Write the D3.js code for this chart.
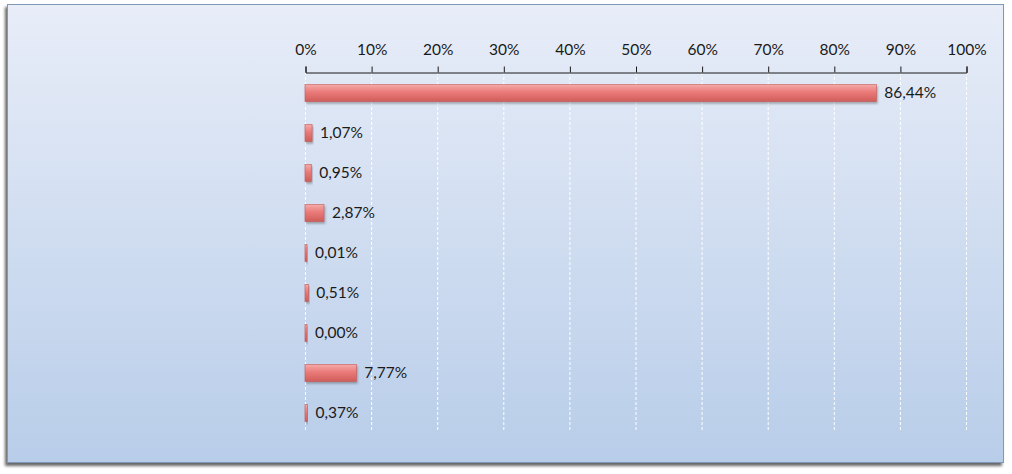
<!DOCTYPE html>
<html>
<head>
<meta charset="utf-8">
<script src="https://cdn.jsdelivr.net/npm/d3@7"></script>
<style>
  body { margin: 0; background: #fff; }
  text { font-family: Lato, "Open Sans", sans-serif; }
</style>
</head>
<body>
<div id="chart"></div>
<script>
// data
var categories = ["c1", "c2", "c3", "c4", "c5", "c6", "c7", "c8", "c9"];
var values = [86.44, 1.07, 0.95, 2.87, 0.01, 0.51, 0.00, 7.77, 0.37];
var tickValues = [0, 10, 20, 30, 40, 50, 60, 70, 80, 90, 100];

var width = 1012, height = 474;

var svg = d3.select("#chart")
    .append("svg")
    .attr("width", width)
    .attr("height", height);

var defs = svg.append("defs");

// background gradient
var bg = defs.append("linearGradient").attr("id", "bg")
    .attr("x1", 0).attr("y1", 0).attr("x2", 0).attr("y2", 1);
bg.append("stop").attr("offset", "0%").attr("stop-color", "#e8edf8");
bg.append("stop").attr("offset", "100%").attr("stop-color", "#b8cde9");

// bar gradient
var bg2 = defs.append("linearGradient").attr("id", "bar")
    .attr("x1", 0).attr("y1", 0).attr("x2", 0).attr("y2", 1);
bg2.append("stop").attr("offset", "0%").attr("stop-color", "#f5abaa");
bg2.append("stop").attr("offset", "45%").attr("stop-color", "#ea7a78");
bg2.append("stop").attr("offset", "100%").attr("stop-color", "#cf5d5b");

var fs = defs.append("filter").attr("id", "frameShadow")
    .attr("x", "-5%").attr("y", "-5%").attr("width", "110%").attr("height", "110%");
fs.append("feDropShadow").attr("dx", -2).attr("dy", 3).attr("stdDeviation", 1.5)
    .attr("flood-color", "#000").attr("flood-opacity", 0.6);

var bs = defs.append("filter").attr("id", "barShadow")
    .attr("x", "-20%").attr("y", "-30%").attr("width", "140%").attr("height", "180%");
bs.append("feDropShadow").attr("dx", 1).attr("dy", 2).attr("stdDeviation", 1.2)
    .attr("flood-color", "#555").attr("flood-opacity", 0.45);

// chart frame
svg.append("rect")
    .attr("x", 7.5).attr("y", 4.5)
    .attr("width", 996).attr("height", 458)
    .attr("fill", "url(#bg)")
    .attr("stroke", "#7f98b8")
    .attr("stroke-width", 1)
    .attr("filter", "url(#frameShadow)");

// scales
var x = d3.scaleLinear().domain([0, 100]).range([305, 966]);
var y = d3.scaleBand().domain(categories).range([73, 433])
    .paddingInner(0.575).paddingOuter(0.2875);

var axisY = 72;

// gridlines
svg.append("g")
    .selectAll("line")
    .data(tickValues)
    .enter()
    .append("line")
    .attr("x1", function (d) { return x(d) + 0.5; })
    .attr("x2", function (d) { return x(d) + 0.5; })
    .attr("y1", axisY)
    .attr("y2", 432)
    .attr("stroke", "#ffffff")
    .attr("stroke-width", 1)
    .attr("stroke-dasharray", "3,2");

// top axis
var axis = svg.append("g")
    .attr("transform", "translate(0.5," + (axisY + 0.5) + ")")
    .call(d3.axisTop(x).tickValues(tickValues)
        .tickSize(6).tickPadding(12)
        .tickFormat(function (d) { return d + "%"; }));
axis.select(".domain").attr("stroke", "#1a1a1a");
axis.selectAll(".tick line").attr("stroke", "#1a1a1a");
axis.selectAll("text")
    .attr("fill", "#1a1a1a")
    .style("font-size", "15.5px")
    .style("font-family", "Lato, 'Open Sans', sans-serif");

// bars
svg.append("g")
    .selectAll("rect")
    .data(values)
    .enter()
    .append("rect")
    .attr("x", x(0))
    .attr("y", function (d, i) { return y(categories[i]); })
    .attr("width", function (d) { return Math.max(x(d) - x(0), 2); })
    .attr("height", y.bandwidth())
    .attr("fill", "url(#bar)")
    .attr("stroke", "#c65a58")
    .attr("stroke-width", 0.6)
    .attr("filter", "url(#barShadow)");

// value labels
svg.append("g")
    .selectAll("text")
    .data(values)
    .enter()
    .append("text")
    .attr("x", function (d) { return Math.max(x(d), x(0) + 2) + 8; })
    .attr("y", function (d, i) { return y(categories[i]) + y.bandwidth() / 2; })
    .attr("dy", "0.35em")
    .attr("fill", "#1a1a1a")
    .style("font-size", "15.5px")
    .text(function (d) { return d.toFixed(2).replace(".", ",") + "%"; });
</script>
</body>
</html>
